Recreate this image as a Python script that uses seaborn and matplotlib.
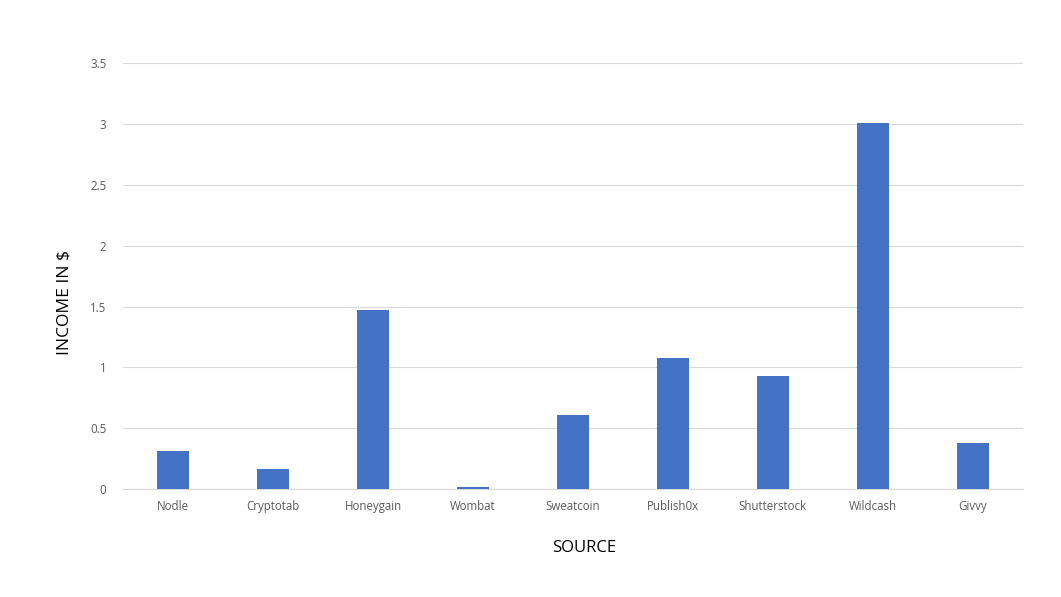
import matplotlib
matplotlib.use("Agg")
import matplotlib.pyplot as plt
import seaborn as sns
import pandas as pd

sources = ["Nodle", "Cryptotab", "Honeygain", "Wombat", "Sweatcoin",
           "Publish0x", "Shutterstock", "Wildcash", "Givvy"]
income = [0.31, 0.16, 1.47, 0.018, 0.61, 1.08, 0.93, 3.01, 0.38]
y_ticks = [0, 0.5, 1, 1.5, 2, 2.5, 3, 3.5]
y_tick_labels = ["0", "0.5", "1", "1.5", "2", "2.5", "3", "3.5"]

sns.set_theme(style="white")
plt.rcParams['font.family'] = ['Open Sans', 'DejaVu Sans']

df = pd.DataFrame({"source": sources, "income": income})

fig = plt.figure(figsize=(10.61, 5.97), dpi=100)
ax = fig.add_axes([0.116, 0.181, 0.848, 0.713])
sns.barplot(data=df, x="source", y="income", color="#4472C4", width=0.32,
            saturation=1, linewidth=0, ax=ax, zorder=3)

ax.set_ylim(0, 3.5)
ax.set_xlim(-0.5, len(sources) - 0.5)
ax.set_yticks(y_ticks)
ax.set_yticklabels(y_tick_labels)
ax.yaxis.grid(True, color="#d9d9d9", linewidth=0.8, zorder=0)
ax.set_axisbelow(True)
for s in ["top", "right", "left"]:
    ax.spines[s].set_visible(False)
ax.spines["bottom"].set_color("#d9d9d9")
ax.spines["bottom"].set_linewidth(0.8)
ax.tick_params(axis="both", length=0, labelsize=8.3, colors="#595959")
ax.tick_params(axis="x", pad=8)
ax.tick_params(axis="y", pad=12)
ax.set_xlabel("SOURCE", fontsize=12, color="#000000")
ax.xaxis.set_label_coords(0.512, -0.121)
ax.set_ylabel(r"INCOME IN \$", fontsize=12.5, color="#000000")
ax.yaxis.set_label_coords(-0.056, 0.438)

fig.savefig("out.png", dpi=100, facecolor="white")
